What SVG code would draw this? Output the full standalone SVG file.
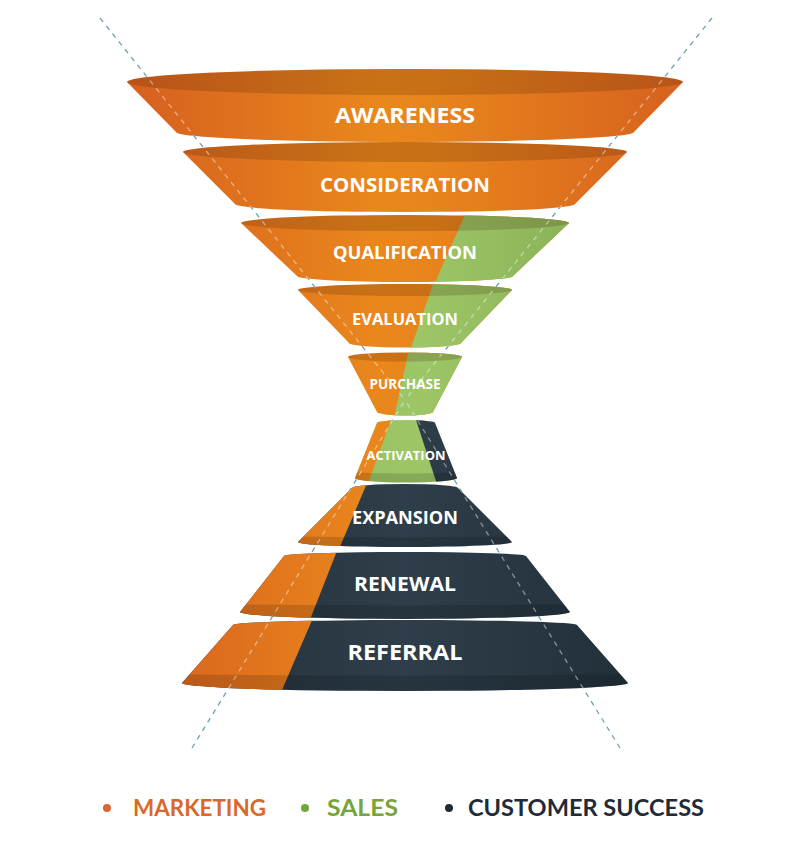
<svg xmlns="http://www.w3.org/2000/svg" xmlns:xlink="http://www.w3.org/1999/xlink" width="800" height="856" viewBox="0 0 800 856">
<defs>
<style>
.lbl{font-family:"Open Sans",Lato,"Liberation Sans",sans-serif;font-weight:700;fill:#ffffff;text-anchor:middle}
.leg{font-family:Lato,"Open Sans","Liberation Sans",sans-serif;font-weight:700;font-size:23px}
.rim{fill:#3a1a00;opacity:0.19}
.band{fill:#000;opacity:0.14}
.guide{fill:none;stroke:#6c9fb0;stroke-width:1.3;stroke-dasharray:5 5}
.guide-lt{fill:none;stroke:#ffffff;stroke-opacity:0.45;stroke-width:1.3;stroke-dasharray:5 5}
.o{fill:url(#gO)}
.g{fill:url(#gG)}
.d{fill:url(#gD)}
</style>
<linearGradient id="gO" gradientUnits="userSpaceOnUse" x1="130" y1="0" x2="680" y2="0">
<stop offset="0" stop-color="#d6601f"/>
<stop offset="0.45" stop-color="#e9871c"/>
<stop offset="0.55" stop-color="#e8841c"/>
<stop offset="1" stop-color="#d6621f"/>
</linearGradient>
<linearGradient id="gG" gradientUnits="userSpaceOnUse" x1="300" y1="0" x2="600" y2="0">
<stop offset="0" stop-color="#94bf60"/>
<stop offset="0.4" stop-color="#9dc667"/>
<stop offset="1" stop-color="#86b055"/>
</linearGradient>
<linearGradient id="gD" gradientUnits="userSpaceOnUse" x1="180" y1="0" x2="630" y2="0">
<stop offset="0" stop-color="#23303a"/>
<stop offset="0.5" stop-color="#2e3e4a"/>
<stop offset="1" stop-color="#22303a"/>
</linearGradient>
<path id="s-awareness" d="M127,82 A278,13 0 0 1 683,82 L634,132 A229,10 0 0 1 176,132 Z"/>
<path id="s-consideration" d="M183,152 A222,10 0 0 1 627,152 L575,204 A170,8 0 0 1 235,204 Z"/>
<path id="s-qualification" d="M241,223 A164,8 0 0 1 569,223 L513,276 A108,6 0 0 1 297,276 Z"/>
<path id="s-evaluation" d="M298,290 A107,6 0 0 1 512,290 L461,343 A56,4.5 0 0 1 349,343 Z"/>
<path id="s-purchase" d="M348,357 A57,4.5 0 0 1 462,357 L433,412 A28,3.5 0 0 1 377,412 Z"/>
<path id="s-activation" d="M377,423 A29,3 0 0 1 435,423 L457,478 A51,4.5 0 0 1 355,478 Z"/>
<path id="s-expansion" d="M352,488 A53,4 0 0 1 458,488 L512,542 A107,5 0 0 1 298,542 Z"/>
<path id="s-renewal" d="M284,556 A121,4 0 0 1 526,556 L570,612 A165,7 0 0 1 240,612 Z"/>
<path id="s-referral" d="M233,625 A172,5 0 0 1 577,625 L628,683 A223,8 0 0 1 182,683 Z"/>
<clipPath id="c-qualification"><use xlink:href="#s-qualification"/></clipPath>
<clipPath id="c-evaluation"><use xlink:href="#s-evaluation"/></clipPath>
<clipPath id="c-purchase"><use xlink:href="#s-purchase"/></clipPath>
<clipPath id="c-activation"><use xlink:href="#s-activation"/></clipPath>
<clipPath id="c-expansion"><use xlink:href="#s-expansion"/></clipPath>
<clipPath id="c-renewal"><use xlink:href="#s-renewal"/></clipPath>
<clipPath id="c-referral"><use xlink:href="#s-referral"/></clipPath>
<clipPath id="c-all">
<use xlink:href="#s-awareness"/><use xlink:href="#s-consideration"/><use xlink:href="#s-qualification"/>
<use xlink:href="#s-evaluation"/><use xlink:href="#s-purchase"/><use xlink:href="#s-activation"/>
<use xlink:href="#s-expansion"/><use xlink:href="#s-renewal"/><use xlink:href="#s-referral"/>
</clipPath>
</defs>

<rect width="800" height="856" fill="#ffffff"/>

<g id="connectors">
<path class="guide" d="M100,18 L405,400 M712,18 L405,400 M192,748 L405,400 M620,748 L405,400"/>
</g>

<g id="awareness">
<use xlink:href="#s-awareness" class="o"/>
<ellipse class="rim" cx="405" cy="82" rx="278" ry="13"/>
<text class="lbl" x="405" y="122.5" font-size="21.5" textLength="140" lengthAdjust="spacingAndGlyphs">AWARENESS</text>
</g>

<g id="consideration">
<use xlink:href="#s-consideration" class="o"/>
<ellipse class="rim" cx="405" cy="152" rx="222" ry="10"/>
<text class="lbl" x="405" y="192" font-size="20" textLength="170" lengthAdjust="spacingAndGlyphs">CONSIDERATION</text>
</g>

<g id="qualification">
<use xlink:href="#s-qualification" class="o"/>
<g clip-path="url(#c-qualification)">
<polygon class="g" points="469.4,205 700,205 700,290 431.7,290"/>
</g>
<ellipse class="rim" cx="405" cy="223" rx="164" ry="8"/>
<text class="lbl" x="405" y="258.5" font-size="18" textLength="144" lengthAdjust="spacingAndGlyphs">QUALIFICATION</text>
</g>

<g id="evaluation">
<use xlink:href="#s-evaluation" class="o"/>
<g clip-path="url(#c-evaluation)">
<polygon class="g" points="434.4,280 600,280 600,352 409.6,352"/>
</g>
<ellipse class="rim" cx="405" cy="290" rx="107" ry="6"/>
<text class="lbl" x="405" y="324.5" font-size="16.5" textLength="106" lengthAdjust="spacingAndGlyphs">EVALUATION</text>
</g>

<g id="purchase">
<use xlink:href="#s-purchase" class="o"/>
<g clip-path="url(#c-purchase)">
<polygon class="g" points="408.9,350 500,350 500,420 393.5,420"/>
</g>
<ellipse class="rim" cx="405" cy="357" rx="57" ry="4.5"/>
<text class="lbl" x="405" y="388.5" font-size="13.5" textLength="71" lengthAdjust="spacingAndGlyphs">PURCHASE</text>
</g>

<g id="activation">
<use xlink:href="#s-activation" class="g"/>
<g clip-path="url(#c-activation)">
<polygon class="o" points="300,415 392.9,415 366.7,487 300,487"/>
<polygon class="d" points="414.4,415 500,415 500,487 437.9,487"/>
<path class="band" d="M340,472 Q406,475 470,472 L470,490 L340,490 Z"/>
</g>
<text class="lbl" x="406" y="460" font-size="13" textLength="79" lengthAdjust="spacingAndGlyphs">ACTIVATION</text>
</g>

<g id="expansion">
<use xlink:href="#s-expansion" class="d"/>
<g clip-path="url(#c-expansion)">
<polygon class="o" points="250,480 368.4,480 338.6,550 250,550"/>
<path class="band" d="M280,536 Q405,539 530,536 L530,555 L280,555 Z"/>
</g>
<text class="lbl" x="405" y="523.5" font-size="17.5" textLength="106" lengthAdjust="spacingAndGlyphs">EXPANSION</text>
</g>

<g id="renewal">
<use xlink:href="#s-renewal" class="d"/>
<g clip-path="url(#c-renewal)">
<polygon class="o" points="200,548 338.1,548 309.1,622 200,622"/>
<path class="band" d="M220,604 Q405,607 590,604 L590,625 L220,625 Z"/>
</g>
<text class="lbl" x="405" y="590.5" font-size="19.5" textLength="102" lengthAdjust="spacingAndGlyphs">RENEWAL</text>
</g>

<g id="referral">
<use xlink:href="#s-referral" class="d"/>
<g clip-path="url(#c-referral)">
<polygon class="o" points="150,617 313.4,617 280.7,693 150,693"/>
<path class="band" d="M160,674 Q405,677 650,674 L650,700 L160,700 Z"/>
</g>
<text class="lbl" x="405" y="659.5" font-size="20.5" textLength="115" lengthAdjust="spacingAndGlyphs">REFERRAL</text>
</g>

<g id="guides-overlay" clip-path="url(#c-all)">
<path class="guide-lt" d="M100,18 L405,400 M712,18 L405,400 M192,748 L405,400 M620,748 L405,400"/>
</g>

<g id="legend">
<circle cx="107" cy="808" r="4" fill="#d9692a"/>
<text class="leg" x="133" y="816" fill="#d9692a" textLength="133" lengthAdjust="spacingAndGlyphs">MARKETING</text>
<circle cx="305" cy="808" r="4" fill="#76a53a"/>
<text class="leg" x="327" y="816" fill="#76a53a" textLength="71" lengthAdjust="spacingAndGlyphs">SALES</text>
<circle cx="449" cy="808" r="4" fill="#1f2b37"/>
<text class="leg" x="468" y="816" fill="#1f2b37" textLength="236" lengthAdjust="spacingAndGlyphs">CUSTOMER SUCCESS</text>
</g>
</svg>
